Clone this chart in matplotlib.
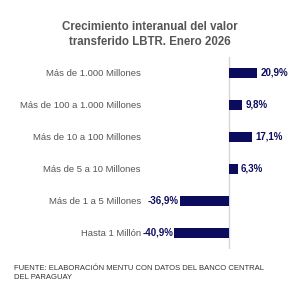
import matplotlib.pyplot as plt

plt.rcParams['font.family'] = ['Liberation Sans', 'DejaVu Sans']

categorias = [
    "Más de 1.000 Millones",
    "Más de 100 a 1.000 Millones",
    "Más de 10 a 100 Millones",
    "Más de 5 a 10 Millones",
    "Más de 1 a 5 Millones",
    "Hasta 1 Millón",
]
valores = [20.9, 9.8, 17.1, 6.3, -36.9, -40.9]
etiquetas = ["20,9%", "9,8%", "17,1%", "6,3%", "-36,9%", "-40,9%"]

titulo = "Crecimiento interanual del valor\ntransferido LBTR. Enero 2026"
fuente = "FUENTE: ELABORACIÓN MENTU CON DATOS DEL BANCO CENTRAL\nDEL PARAGUAY"

azul = '#0c0c5e'
gris = '#555555'

fig = plt.figure(figsize=(3, 3), dpi=100)
ax = fig.add_axes([0.5, 0.17, 0.467, 0.64])

pos = list(range(len(categorias)))
ax.barh(pos, valores, height=0.34, color=azul)
ax.axvline(0, color='#d6d6d6', linewidth=1, zorder=0)

for y, v, t in zip(pos, valores, etiquetas):
    if v >= 0:
        ax.text(v + 2.5, y, t, ha='left', va='center', fontsize=7,
                fontweight='bold', color=azul)
    else:
        ax.text(v - 0.5, y, t, ha='right', va='center', fontsize=7,
                fontweight='bold', color=azul)

ax.set_xlim(-59, 45.5)
ax.set_ylim(len(categorias) - 0.5, -0.5)
ax.set_yticks(pos)
ax.set_yticklabels(categorias, fontsize=6.8, color=gris)
ax.tick_params(axis='y', length=0, pad=6.5)
ax.set_xticks([])
for s in ax.spines.values():
    s.set_visible(False)

fig.text(0.5, 0.885, titulo, ha='center', va='center', fontsize=8.3,
         fontweight='bold', color=gris, linespacing=1.25)
fig.text(0.045, 0.09, fuente, ha='left', va='center', fontsize=5.5,
         color='#333333', linespacing=1.35)

fig.savefig("out.png", dpi=100, facecolor='white')
